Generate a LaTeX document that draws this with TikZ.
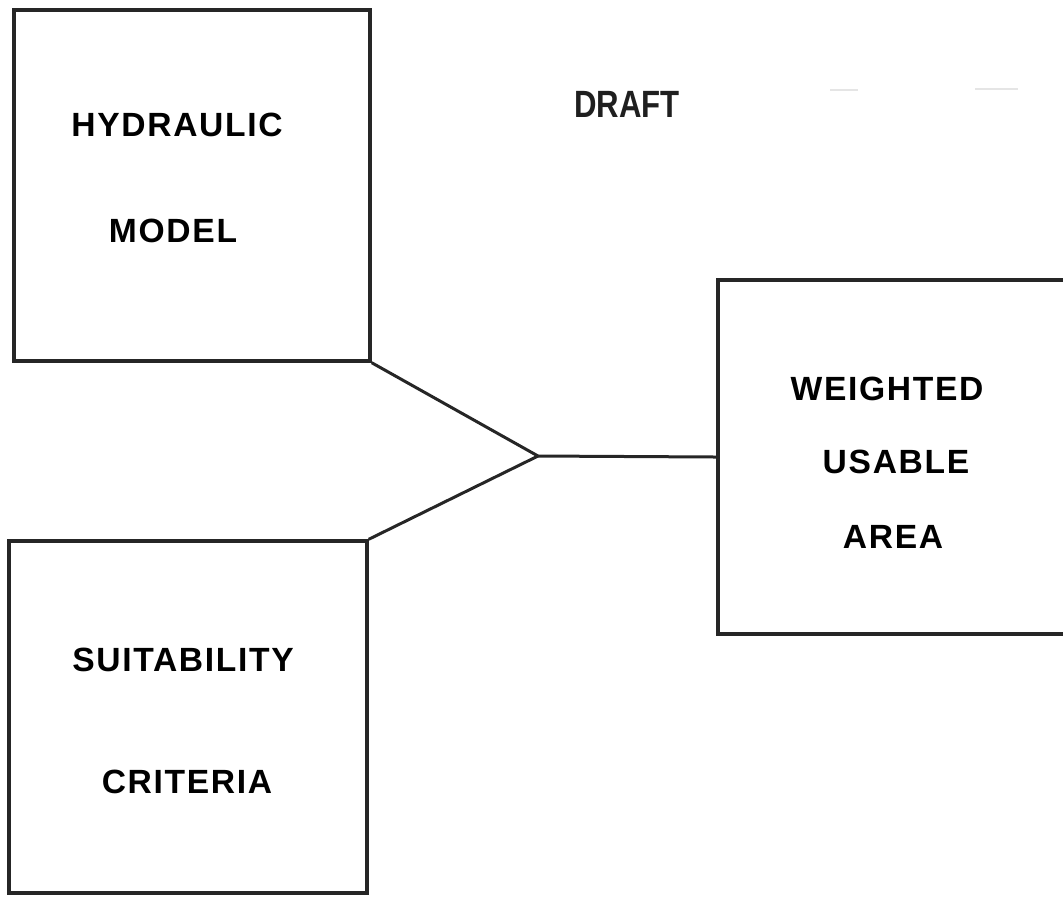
\documentclass[tikz,border=0pt]{standalone}
\usepackage{fontspec}
\setmainfont{Liberation Sans}
\usepackage{tikz}

\begin{document}
\begin{tikzpicture}[x=0.5pt,y=-0.5pt,
        box/.style={draw=black!85, line width=1.7pt, inner sep=0pt},
        link/.style={draw=black!85, line width=1.5pt},
        lettering/.style={inner sep=0pt, anchor=center,
            font=\fontsize{16.8}{20}\selectfont\bfseries\addfontfeatures{LetterSpace=5}}]
        \clip (0,0) rectangle (1063,896); % page, right box runs off it

        %% The three boxes
        \node [box, minimum width=178pt, minimum height=175.5pt] (hyd) at (192,185.5) {};
        \node [box, minimum width=179pt, minimum height=176pt] (suit) at (188,717) {};
        \node [box, minimum width=186pt, minimum height=177pt] (wua) at (904,457) {};

        %% Box texts
        \node [lettering] (hyd-1) at (177,125) {HYDRAULIC};
        \node [lettering] (hyd-2) at (173,231) {MODEL};
        \node [lettering] (suit-1) at (183,660) {SUITABILITY};
        \node [lettering] (suit-2) at (187,782) {CRITERIA};
        \node [lettering] (wua-1) at (887,389) {WEIGHTED};
        \node [lettering] (wua-2) at (896,462) {USABLE};
        \node [lettering] (wua-3) at (893,537) {AREA};

        %% Stamp
        \node [inner sep=0pt, text=black!88, xscale=0.82, transform shape,
            font=\fontsize{19}{22}\selectfont\bfseries] (draft) at (627,104) {DRAFT};
        \draw [black!10, line width=1pt] (830,90) -- (858,90) (975,89) -- (1018,89);

        %% Lines joining
        \coordinate (j) at (538,456);
        \draw [link] (hyd.south east) -- (j);
        \draw [link] (suit.north east) -- (j);
        \draw [link] (j) -- (wua.west);
    \end{tikzpicture}
\end{document}
